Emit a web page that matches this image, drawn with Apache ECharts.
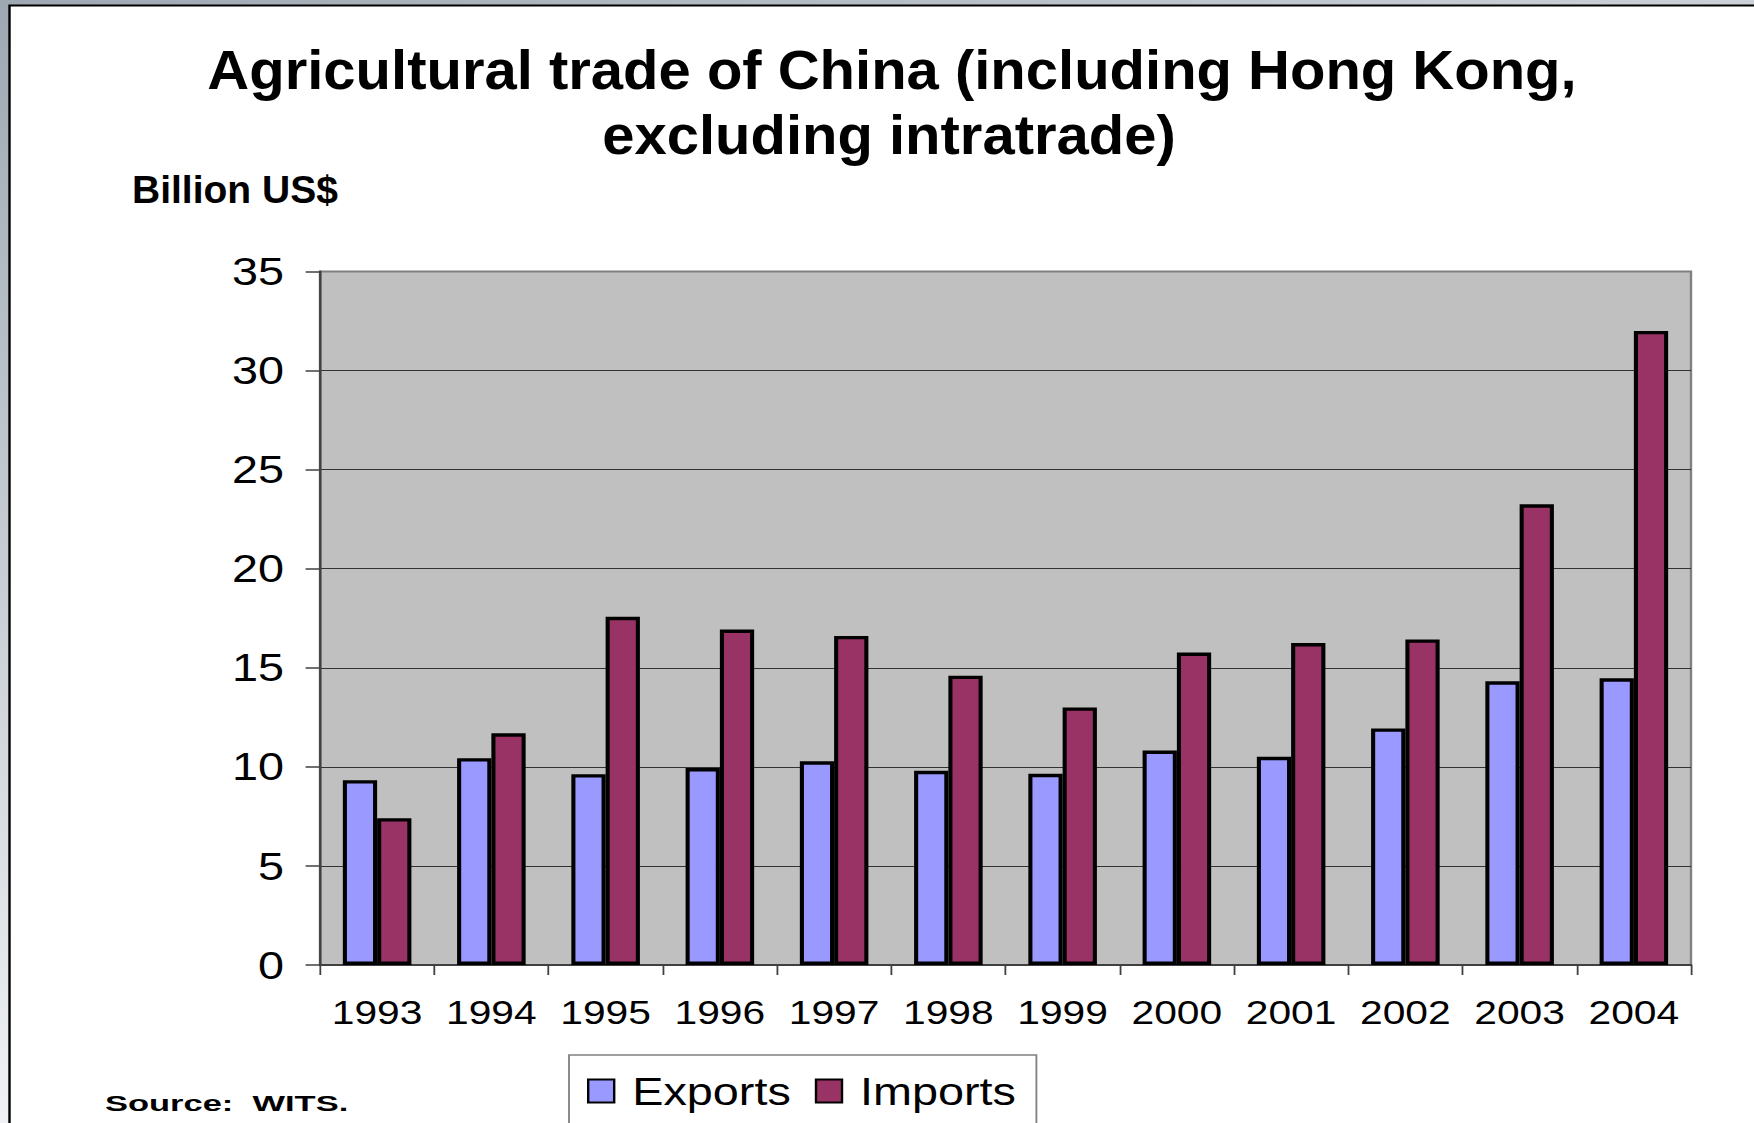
<!DOCTYPE html>
<html>
<head>
<meta charset="utf-8">
<script src="https://cdn.jsdelivr.net/npm/echarts@6/dist/echarts.min.js"></script>
<style>
  html, body { margin: 0; padding: 0; width: 1754px; height: 1123px; overflow: hidden; background: #fff; }
  /* the embedded chart is laid out narrower and stretched horizontally */
  #chart { position: absolute; left: 0; top: 0; width: 1462px; height: 1123px;
           transform: scaleX(1.199726); transform-origin: 0 0; }
</style>
</head>
<body>
<div id="chart"></div>
<script>
// Agricultural trade of China, billion US$
const years = ['1993', '1994', '1995', '1996', '1997', '1998', '1999', '2000', '2001', '2002', '2003', '2004'];
const exportsBn = [9.33, 10.44, 9.63, 9.94, 10.28, 9.8, 9.65, 10.82, 10.51, 11.94, 14.32, 14.47];
const importsBn = [7.41, 11.69, 17.57, 16.93, 16.61, 14.6, 13.0, 15.77, 16.25, 16.43, 23.25, 32.0];
const yMin = 0, yMax = 35, yStep = 5;

const titleLines = ['Agricultural trade of China (including Hong Kong,', 'excluding intratrade)'];
const unitLabel = 'Billion US$';
const sourceNote = 'Source:  WITS.';

const W = 1462, H = 1123;
const SX = 1754 / W;              // horizontal stretch applied to the canvas
const px = x => x / SX;           // screen x -> canvas x
const FONT = '"Liberation Sans", Arial, Helvetica, sans-serif';

const chart = echarts.init(document.getElementById('chart'), null, { renderer: 'svg', width: W, height: H });

chart.setOption({
  animation: false,
  backgroundColor: {
    type: 'linear', x: 0, y: 0, x2: 0.45, y2: 0.8,
    colorStops: [{ offset: 0, color: '#9ea8b2' }, { offset: 1, color: '#f4f5f7' }]
  },
  graphic: [
    { type: 'rect', z: -100, silent: true,
      shape: { x: px(9.5), y: 5.5, width: 3000, height: 3000 },
      style: { fill: '#ffffff', stroke: '#000000', lineWidth: 2 } },
    { type: 'text', z: 100, x: px(892), y: 70, scaleX: 1.055 / SX,
      style: { text: titleLines[0], font: 'bold 55px ' + FONT, fill: '#000',
               textAlign: 'center', textVerticalAlign: 'middle' } },
    { type: 'text', z: 100, x: px(889), y: 135, scaleX: 1.055 / SX,
      style: { text: titleLines[1], font: 'bold 55px ' + FONT, fill: '#000',
               textAlign: 'center', textVerticalAlign: 'middle' } },
    { type: 'text', z: 100, x: px(132), y: 190, scaleX: 1 / SX,
      style: { text: unitLabel, font: 'bold 39px ' + FONT, fill: '#000',
               textAlign: 'left', textVerticalAlign: 'middle' } },
    { type: 'text', z: 100, x: px(105), y: 1103, scaleX: 1.25,
      style: { text: sourceNote, font: 'bold 23px ' + FONT, fill: '#000',
               textAlign: 'left', textVerticalAlign: 'middle' } }
  ],
  grid: {
    left: px(320), right: W - px(1691), top: 271.5, bottom: H - 965,
    show: true, backgroundColor: '#c0c0c0', borderColor: '#808080', borderWidth: 2
  },
  legend: {
    data: ['Exports', 'Imports'],
    left: px(569), top: 1055,
    orient: 'horizontal',
    backgroundColor: '#ffffff', borderColor: '#808080', borderWidth: 1.5,
    padding: [16.5, 17, 80, 15],
    itemWidth: px(26), itemHeight: 23, itemGap: px(24),
    icon: 'rect',
    itemStyle: { borderColor: '#000', borderWidth: 2 },
    textStyle: { fontFamily: FONT, fontSize: 39, lineHeight: 39, color: '#000', padding: [0, 0, 0, 10] }
  },
  xAxis: {
    type: 'category',
    data: years,
    boundaryGap: true,
    axisLine: { show: true, lineStyle: { color: '#404040', width: 2 } },
    axisTick: { show: true, length: 10, lineStyle: { color: '#404040', width: 1.5 } },
    axisLabel: { fontFamily: FONT, fontSize: 34, lineHeight: 34, color: '#000', margin: 30, interval: 0 },
    splitLine: { show: false }
  },
  yAxis: {
    type: 'value',
    min: yMin, max: yMax, interval: yStep,
    axisLine: { show: true, lineStyle: { color: '#404040', width: 2 } },
    axisTick: { show: true, length: 12, lineStyle: { color: '#404040', width: 1.5 } },
    axisLabel: { fontFamily: FONT, fontSize: 39, color: '#000', margin: 30 },
    splitLine: { show: true, showMaxLine: false, lineStyle: { color: '#333333', width: 1.2 } }
  },
  series: [
    { name: 'Exports', type: 'bar', data: exportsBn, barGap: '0%', barCategoryGap: '40%',
      itemStyle: { color: '#9999ff', borderColor: '#000', borderWidth: 3.4 } },
    { name: 'Imports', type: 'bar', data: importsBn, barGap: '0%', barCategoryGap: '40%',
      itemStyle: { color: '#993366', borderColor: '#000', borderWidth: 3.4 } }
  ]
});
</script>
</body>
</html>
